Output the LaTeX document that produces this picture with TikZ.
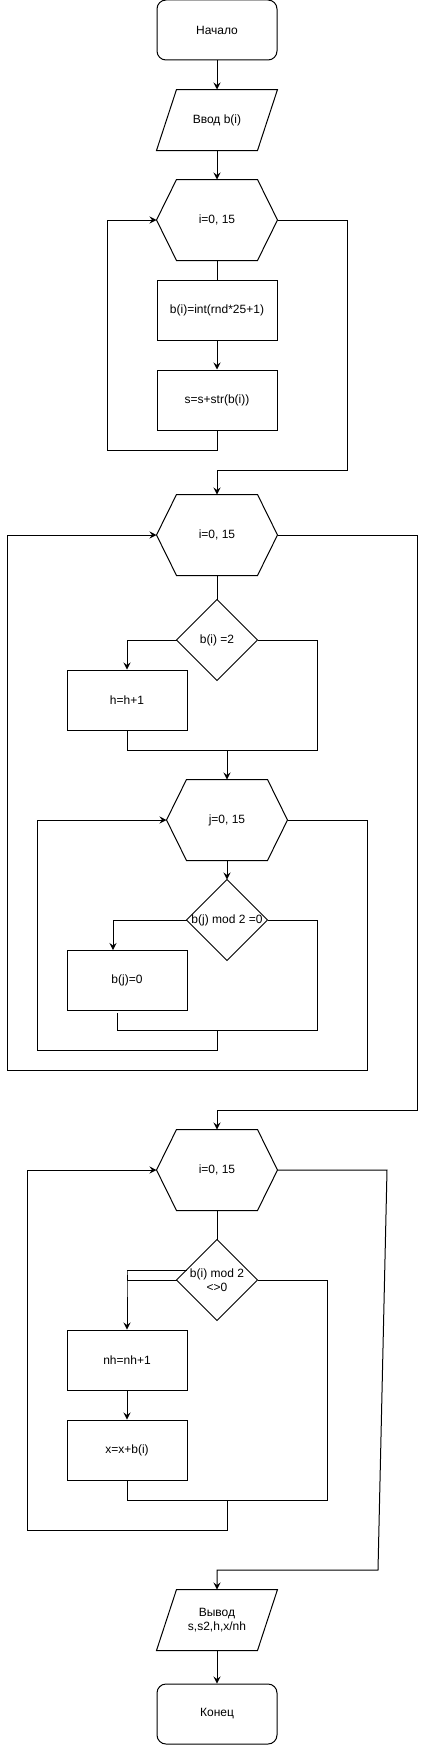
\documentclass[tikz,border=0pt]{standalone}
\usepackage{fontspec}
\setmainfont{Liberation Sans}
\usetikzlibrary{calc,arrows.meta}
\begin{document}
\begin{tikzpicture}[x=1pt,y=-1pt,line width=1pt,
  txt/.style={inner sep=0pt, font=\fontsize{12}{14}\selectfont, align=center, text=black},
  proc/.style={txt, draw, minimum width=120pt, minimum height=60pt},
  term/.style={proc, rounded corners=9pt},
  ghost/.style={txt, minimum width=120pt, minimum height=#1},
  dia/.style={txt, minimum width=80pt, minimum height=80pt},
  arr/.style={-{Stealth[length=7pt,width=7pt,inset=2.5pt]}}
]
\fill[white] (0,0) rectangle (426,1745);
\useasboundingbox (0,0) rectangle (426,1745);

% nodes
\node[term] (start) at (217,30) {Начало};
\node[ghost=60pt] (inp) at (217,120) {Ввод b(i)};
\node[ghost=80pt] (h1) at (217,220) {i=0, 15};
\node[proc] (r1) at (217,310) {b(i)=int(rnd*25+1)};
\node[proc] (r2) at (217,400) {s=s+str(b(i))};
\node[ghost=80pt] (h2) at (217,535) {i=0, 15};
\node[dia] (d1) at (217,640) {b(i) =2};
\node[proc] (r3) at (127,700) {h=h+1};
\node[ghost=80pt] (h3) at (227,820) {j=0, 15};
\node[dia] (d2) at (227,920) {b(j) mod 2 =0};
\node[proc] (r4) at (127,980) {b(j)=0};
\node[ghost=80pt] (h4) at (217,1170) {i=0, 15};
\node[dia] (d3) at (217,1280) {b(i) mod 2\\<>0};
\node[proc] (r5) at (127,1360) {nh=nh+1};
\node[proc] (r6) at (127,1450) {x=x+b(i)};
\node[ghost=60pt] (out) at (217,1620) {Вывод\\s,s2,h,x/nh};
\node[term] (end) at (217,1714) {Конец};

% shapes
\foreach \n in {h1,h2,h3,h4}
  \draw (\n.west) -- ($(\n.north west)+(20,0)$) -- ($(\n.north east)+(-20,0)$) -- (\n.east)
        -- ($(\n.south east)+(-20,0)$) -- ($(\n.south west)+(20,0)$) -- cycle;
\foreach \n in {d1,d2,d3}
  \draw (\n.north) -- (\n.east) -- (\n.south) -- (\n.west) -- cycle;
\foreach \n in {inp,out}
  \draw ($(\n.north west)+(20,0)$) -- (\n.north east) -- ($(\n.south east)+(-20,0)$) -- (\n.south west) -- cycle;

% helper coordinates
\coordinate (m1) at (227,750);
\coordinate (m2) at (217,1030);
\coordinate (m3) at (227,1500);
\coordinate (b4) at (113,950);
\coordinate (t4) at (117,1013);
\coordinate (k3) at (187,1270);

% connectors
\draw[arr] (start) -- (inp.north);
\draw[arr] (inp.south) -- (h1.north);
\draw (h1.south) -- (r1.north);
\draw[arr] (r1) -- (r2);
\draw[arr] (r2.south) |- (107,450) |- (h1.west);
\draw[arr] (h1.east) -| (347,470) -| (h2.north);

\draw (h2.south) -- (d1.north);
\draw[arr] (d1.west) -| (r3.north);
\draw (d1.east) -| (317,750) -- (127,750) -- (r3.south);
\draw[arr] (m1) -- (h3.north);
\draw[arr] (h3.south) -- (d2.north);
\draw[arr] (d2.west) -| (b4);
\draw (d2.east) -| (317,1030) -- (117,1030) -- (t4);
\draw[arr] (m2) |- (37,1050) |- (h3.west);
\draw[arr] (h3.east) -| (367,1070) -- (7,1070) |- (h2.west);
\draw[arr] (h2.east) -| (417,1110) -| (h4.north);

\draw (h4.south) -- (d3.north);
\draw (k3) -- (127,1270);
\draw[arr] (d3.west) -- (127,1280) -- (127,1270) -- (r5.north);
\draw[arr] (r5) -- (r6);
\draw (d3.east) -| (327,1500) -- (127,1500) -- (r6.south);
\draw[arr] (m3) |- (27,1530) |- (h4.west);
\draw[arr] (h4.east) -- (387,1170) -- (378,1570) -| (out.north);
\draw[arr] (out.south) -- (end.north);
\end{tikzpicture}
\end{document}
